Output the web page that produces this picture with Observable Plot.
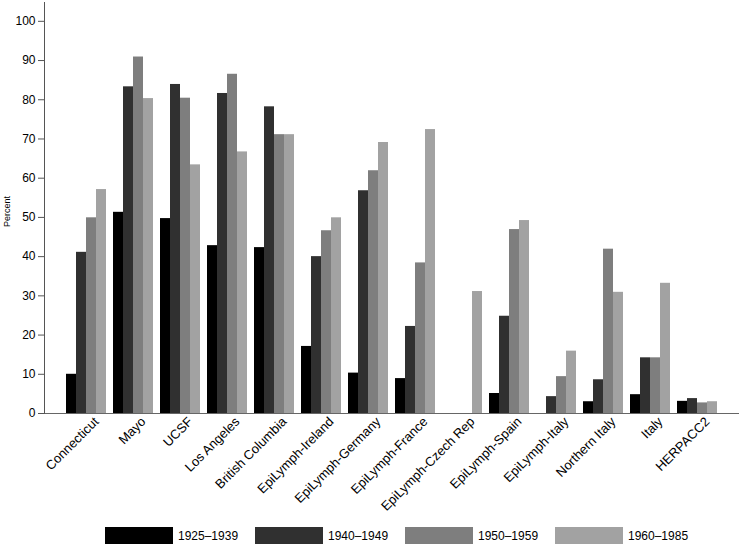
<!DOCTYPE html>
<html>
<head>
<meta charset="utf-8">
<script src="https://cdn.jsdelivr.net/npm/d3@7"></script>
<script src="https://cdn.jsdelivr.net/npm/@observablehq/plot@0.6"></script>
<style>
  body { margin: 0; background: #fff; font-family: "Liberation Sans", Arial, sans-serif; }
  #legend { display: flex; position: relative; height: 25px; }
  .item { position: absolute; top: 5px; display: flex; align-items: center; font-size: 12px; color: #000; }
  .sw { width: 68px; height: 17px; margin-right: 5px; }
</style>
</head>
<body>
<div id="chart"></div>
<div id="legend"></div>
<script>
const sites = ["Connecticut", "Mayo", "UCSF", "Los Angeles", "British Columbia",
  "EpiLymph-Ireland", "EpiLymph-Germany", "EpiLymph-France", "EpiLymph-Czech Rep",
  "EpiLymph-Spain", "EpiLymph-Italy", "Northern Italy", "Italy", "HERPACC2"];
const periods = ["1925\u20131939", "1940\u20131949", "1950\u20131959", "1960\u20131985"];
const v1925 = [10.0, 51.3, 49.7, 42.8, 42.3, 17.1, 10.3, 8.9, null, 5.1, null, 3.0, 4.8, 3.1];
const v1940 = [41.1, 83.3, 83.9, 81.6, 78.2, 40.0, 56.8, 22.2, null, 24.8, 4.3, 8.6, 14.2, 3.8];
const v1950 = [49.9, 90.9, 80.4, 86.5, 71.1, 46.6, 61.9, 38.4, null, 46.9, 9.4, 41.9, 14.2, 2.7];
const v1960 = [57.1, 80.3, 63.4, 66.7, 71.1, 49.9, 69.1, 72.4, 31.1, 49.2, 15.9, 30.9, 33.2, 3.0];
const yTicks = [0, 10, 20, 30, 40, 50, 60, 70, 80, 90, 100];
const colors = ["#000000", "#303030", "#7e7e7e", "#a2a2a2"];

const series = [v1925, v1940, v1950, v1960];
const barWidth = 10;
const barMarks = series.map((vals, i) => {
  const rows = sites.map((s, j) => ({site: s, value: vals[j], period: periods[i]}))
    .filter(d => d.value != null);
  return Plot.barY(rows, {
    x: "site", y: "value", fill: colors[i],
    insetLeft: i * barWidth, insetRight: (series.length - 1 - i) * barWidth
  });
});

const chart = Plot.plot({
  width: 741,
  height: 522,
  marginLeft: 44,
  marginRight: 2,
  marginTop: 2,
  marginBottom: 109,
  style: {fontFamily: "'Liberation Sans', Arial, sans-serif", background: "#fff"},
  x: {domain: sites, paddingInner: 0.1513, paddingOuter: 0.449, label: null},
  y: {domain: [0, 104.8], label: null},
  marks: [
    ...barMarks,
    Plot.ruleY([0], {stroke: "#666", strokeWidth: 1.2}),
    Plot.frame({anchor: "left", stroke: "#555"}),
    Plot.axisY({ticks: yTicks, tickSize: 6, tickPadding: 3, fontSize: 12, label: null, stroke: "#555"}),
    Plot.axisX({tickSize: 0, tickRotate: -45, fontSize: 13, tickPadding: 5, dx: 10, dy: 1, label: null}),
    Plot.text(["Percent"], {frameAnchor: "left", textAnchor: "middle", dx: -37, rotate: -90, fontSize: 9, y: [51.5]})
  ]
});
document.getElementById("chart").appendChild(chart);

const legend = document.getElementById("legend");
periods.forEach((p, i) => {
  const item = document.createElement("div");
  item.className = "item";
  item.style.left = (105 + i * 150) + "px";
  const sw = document.createElement("div");
  sw.className = "sw";
  sw.style.background = colors[i];
  const t = document.createElement("span");
  t.textContent = p;
  item.appendChild(sw);
  item.appendChild(t);
  legend.appendChild(item);
});
</script>
</body>
</html>
